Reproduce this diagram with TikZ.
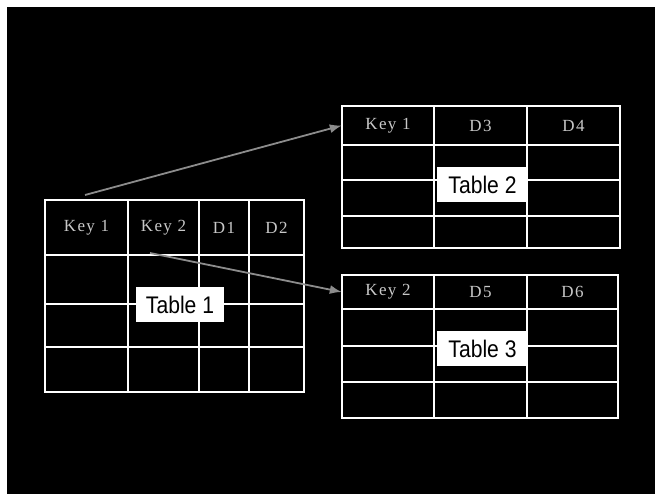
\documentclass[tikz,border=0pt]{standalone}
\usepackage{fontspec}
\setmainfont{Liberation Serif}
\newfontfamily\headfont[LetterSpace=8]{Liberation Serif}
\newfontfamily\labelfont[FakeStretch=0.88]{Liberation Sans}
\usetikzlibrary{arrows.meta}
\definecolor{headgray}{HTML}{C8C8C8}
\definecolor{linkgray}{HTML}{8C8C8C}
\tikzset{
  outer/.style={draw=white,line width=2.4pt},
  inner/.style={draw=white,line width=1.1pt},
  head/.style={text=headgray,font=\headfont\fontsize{17}{19}\selectfont,inner sep=0pt},
  tlabel/.style={fill=white,text=black,font=\labelfont\fontsize{24}{26}\selectfont,
    minimum width=88pt,minimum height=35pt,inner sep=0pt},
  link/.style={draw=linkgray,line width=1.8pt,-{Latex[length=12pt,width=9pt]}}
}
\begin{document}
\begin{tikzpicture}[x=1pt,y=-1pt]
\useasboundingbox (0,0) rectangle (655,494) ;
\fill [white] (0,0) rectangle (655,494) ;
\fill [black] (7,7) rectangle (655,494) ;
% Table 1
\draw [inner] (128,200) -- (128,392) (199,200) -- (199,392) (249,200) -- (249,392) ;
\draw [inner] (45,255) -- (304,255) (45,304) -- (304,304) (45,347) -- (304,347) ;
\draw [outer] (45,200) rectangle (304,392) ;
\node [head,minimum width=83pt,minimum height=55pt] (t1k1) at (86.5,227.5) {Key 1} ;
\node [head,minimum width=71pt,minimum height=55pt] (t1k2) at (163.5,227.5) {Key 2} ;
\node [head] (t1d1) at (224,227.5) {D1} ;
\node [head] (t1d2) at (276.5,227.5) {D2} ;
\node [tlabel] (tab1) at (180,304.5) {Table 1} ;
% Table 2
\draw [inner] (434,106) -- (434,248) (527,106) -- (527,248) ;
\draw [inner] (342,145) -- (620,145) (342,180) -- (620,180) (342,216) -- (620,216) ;
\draw [outer] (342,106) rectangle (620,248) ;
\node [head,minimum width=92pt,minimum height=39pt] (t2k1) at (388,125.5) {Key 1} ;
\node [head] (t2d3) at (480.5,125.5) {D3} ;
\node [head] (t2d4) at (573.5,125.5) {D4} ;
\node [tlabel,minimum width=91pt] (tab2) at (482.5,184.5) {Table 2} ;
% Table 3
\draw [inner] (434,275) -- (434,418) (527,275) -- (527,418) ;
\draw [inner] (342,309) -- (618,309) (342,346) -- (618,346) (342,382) -- (618,382) ;
\draw [outer] (342,275) rectangle (618,418) ;
\node [head,minimum width=92pt,minimum height=34pt] (t3k2) at (388,292) {Key 2} ;
\node [head] (t3d5) at (480.5,292) {D5} ;
\node [head] (t3d6) at (572.5,292) {D6} ;
\node [tlabel,minimum width=91pt] (tab3) at (482.5,348.5) {Table 3} ;
% links
\coordinate (from1) at (85,195) ;
\coordinate (from2) at (150,253) ;
\draw [link] (from1) -- (t2k1.west) ;
\draw [link] (from2) -- (t3k2.west) ;
\end{tikzpicture}
\end{document}
